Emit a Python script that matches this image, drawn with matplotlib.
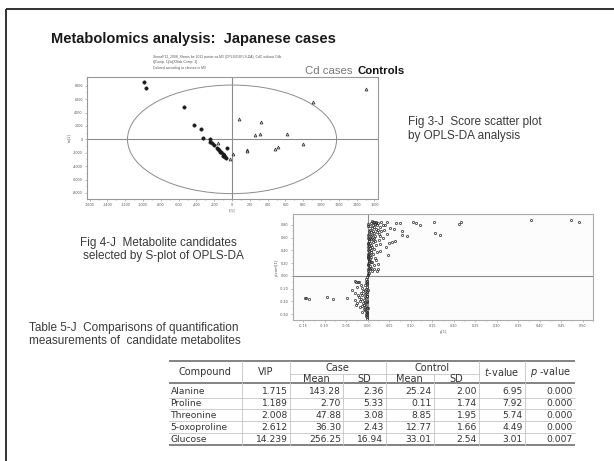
import matplotlib
matplotlib.use('Agg')
import matplotlib.pyplot as plt
from matplotlib.patches import Ellipse
from matplotlib.ticker import AutoMinorLocator

# ---------------- data ----------------
# Fig 3-J score scatter (t[1], to[1])
case_x = [-985, -970, -539, -427, -354, -331, -251, -244, -225, -199, -172, -157, -143,
          -135, -120, -104, -101, -90, -75, -67, -60]
case_y = [8507, 7701, 4776, 2179, 1507, 224, 0, -358, -552, -851, -1254, -1448, -1597,
          -1896, -1851, -2149, -2493, -2343, -2597, -2836, -1300]
ctrl_x = [-154, -22, 8, 82, 326, 258, 315, 621, 165, 172, 483, 520, 794, 913, 1502]
ctrl_y = [-597, -2940, -2239, 2985, 2627, 687, 746, 746, -1597, -1791, -1448, -1194,
          -746, 5612, 7552]

# Fig 4-J S-plot (p[1], p(corr)[1])
s_x = [0.002, 0.004, 0.001, 0.005, 0.003, 0.006, 0.002, 0.004, 0.007, 0.003, 0.005, 0.008,
       0.002, 0.006, 0.004, 0.009, 0.003, 0.007, 0.005, 0.010, 0.004, 0.008, 0.006, 0.012,
       0.003, 0.009, 0.005, 0.014, 0.007, 0.011, 0.004, 0.016, 0.008, 0.013, 0.006, 0.019,
       0.010, 0.015, 0.005, 0.022, 0.012, 0.018, 0.008, 0.025, 0.014, 0.020, 0.010, 0.003,
       0.002, 0.001, 0.002, 0.001, 0.024, 0.028, 0.017, 0.021, 0.026, 0.013, 0.018, 0.020,
       0.015, 0.022, 0.012, 0.017, 0.010, 0.014, 0.009, 0.011, 0.027, 0.032, 0.035, 0.030,
       0.013, 0.019, 0.031, 0.046, 0.067, 0.075, 0.105, 0.112, 0.123, 0.155, 0.158, 0.168,
       0.212, 0.217, 0.380, 0.474, 0.492, 0.040, 0.061, 0.079, 0.079, 0.091, 0.050, 0.063,
       0.029, 0.030, 0.048, 0.019, 0.025, 0.015, 0.038, 0.045, 0.052, 0.036, 0.042, 0.024,
       0.056, 0.021,
       0.001, 0.002, 0.000, 0.003, 0.001, 0.002, 0.000, 0.001, 0.003, 0.002, 0.000, 0.001,
       -0.001, -0.003, -0.001, -0.004, -0.002, -0.005, -0.001, -0.003, -0.006, -0.002,
       -0.004, -0.007, -0.002, -0.005, -0.003, -0.008, -0.002, -0.006, -0.004, -0.009,
       -0.003, -0.005, -0.002, -0.007, -0.003, -0.001, -0.004, -0.002, -0.003, -0.001,
       -0.002, -0.012, -0.015, -0.011, -0.014, -0.010, -0.013, -0.018, -0.020, -0.016,
       -0.009, -0.012, -0.001, 0.000, -0.002, -0.001, 0.000, -0.001,
       -0.146, -0.142, -0.136, -0.095, -0.081, -0.047, -0.036, -0.027, -0.030, -0.022,
       -0.030, -0.024, -0.020, -0.025, -0.028, -0.022, -0.018, -0.026, -0.016]
s_y = [0.02, 0.05, 0.08, 0.10, 0.13, 0.15, 0.18, 0.20, 0.22, 0.25, 0.27, 0.29,
       0.31, 0.33, 0.35, 0.37, 0.39, 0.41, 0.43, 0.45, 0.47, 0.49, 0.51, 0.53,
       0.55, 0.57, 0.59, 0.60, 0.62, 0.64, 0.66, 0.67, 0.69, 0.70, 0.72, 0.73,
       0.75, 0.76, 0.78, 0.79, 0.80, 0.81, 0.82, 0.83, 0.84, 0.85, 0.86, 0.70,
       0.60, 0.50, 0.40, 0.30, 0.72, 0.77, 0.63, 0.68, 0.65, 0.57, 0.55, 0.48,
       0.42, 0.38, 0.34, 0.28, 0.22, 0.17, 0.12, 0.07, 0.56, 0.70, 0.80, 0.62,
       0.84, 0.83, 0.84, 0.84, 0.83, 0.83, 0.85, 0.83, 0.79, 0.84, 0.67, 0.64,
       0.81, 0.84, 0.87, 0.87, 0.84, 0.79, 0.74, 0.70, 0.64, 0.62, 0.52, 0.55,
       0.50, 0.39, 0.32, 0.245, 0.10, 0.10, 0.72, 0.66, 0.75, 0.60, 0.45, 0.18,
       0.53, 0.07,
       0.035, 0.115, 0.165, 0.235, 0.285, 0.345, 0.445, 0.515, 0.575, 0.635, 0.775, 0.805,
       -0.02, -0.05, -0.08, -0.10, -0.13, -0.15, -0.18, -0.20, -0.22, -0.25,
       -0.27, -0.29, -0.31, -0.33, -0.35, -0.37, -0.39, -0.41, -0.43, -0.45,
       -0.47, -0.49, -0.51, -0.53, -0.55, -0.57, -0.59, -0.61, -0.63, -0.65,
       -0.67, -0.30, -0.36, -0.42, -0.47, -0.24, -0.19, -0.40, -0.33, -0.27,
       -0.52, -0.56, -0.115, -0.215, -0.315, -0.415, -0.505, -0.585,
       -0.35, -0.34, -0.36, -0.33, -0.36, -0.34, -0.22, -0.09, -0.08, -0.09,
       -0.38, -0.43, -0.10, -0.18, -0.26, -0.30, -0.48, -0.46, -0.14]

# Table 5-J
compounds = ["Alanine", "Proline", "Threonine", "5-oxoproline", "Glucose"]
vip = [1.715, 1.189, 2.008, 2.612, 14.239]
case_mean = [143.28, 2.70, 47.88, 36.30, 256.25]
case_sd = [2.36, 5.33, 3.08, 2.43, 16.94]
ctrl_mean = [25.24, 0.11, 8.85, 12.77, 33.01]
ctrl_sd = [2.00, 1.74, 1.95, 1.66, 2.54]
t_value = [6.95, 7.92, 5.74, 4.49, 3.01]
p_value = [0.000, 0.000, 0.000, 0.000, 0.007]

score_xticks = list(range(-1600, 1601, 200))
score_yticks = list(range(-8000, 8001, 2000))
s_xticks = [-0.15, -0.10, -0.05, 0.00, 0.05, 0.10, 0.15, 0.20, 0.25, 0.30, 0.35, 0.40, 0.45, 0.50]
s_yticks = [-0.6, -0.4, -0.2, 0.0, 0.2, 0.4, 0.6, 0.8]

# ---------------- layout ----------------
W, H = 614, 461
fig = plt.figure(figsize=(W / 100, H / 100), dpi=100)
fig.patch.set_facecolor('white')

def rect(l, t, r, b):
    return [l / W, 1 - b / H, (r - l) / W, (b - t) / H]

ov = fig.add_axes([0, 0, 1, 1])
ov.set_xlim(0, W)
ov.set_ylim(H, 0)
ov.axis('off')

SANS = ['Liberation Sans', 'DejaVu Sans']
TXT = '#3a3a3a'

# slide frame (only top and left edges are inside the picture)
ov.plot([6, W + 5], [9.5, 9.5], color='#222222', lw=1.3, solid_capstyle='butt')
ov.plot([6, 6], [9.5, H + 5], color='#222222', lw=1.3, solid_capstyle='butt')

ov.text(51, 43, "Metabolomics analysis:  Japanese cases", family=SANS, fontsize=10.5,
        fontweight='bold', color='#1a1a1a', va='baseline')

hdr = ["SimcaP12_2008_Shows for 2012 poster ca.M3 (OPLS/O2PLS-DA), CdC without Cdb",
       "t[Comp. 1]/to[XSide Comp. 1]",
       "Colored according to classes in M3"]
for i, s in enumerate(hdr):
    ov.text(153, 57 + i * 5.5, s, family=SANS, fontsize=2.4, color='#555555', va='center')

ov.text(305, 71, "Cd cases", family=SANS, fontsize=8.2, color='#777777', va='center')
ov.text(358, 71, "Controls", family=SANS, fontsize=8.2, fontweight='bold', color='#111111',
        va='center')

ov.text(408, 121.7, "Fig 3-J  Score scatter plot", family=SANS, fontsize=8.5, color=TXT, va='center')
ov.text(408, 135.7, "by OPLS-DA analysis", family=SANS, fontsize=8.5, color=TXT, va='center')
ov.text(80, 243.3, "Fig 4-J  Metabolite candidates", family=SANS, fontsize=8.5, color=TXT, va='center')
ov.text(83.3, 255.5, "selected by S-plot of OPLS-DA", family=SANS, fontsize=8.5, color=TXT, va='center')
ov.text(29.3, 328.3, "Table 5-J  Comparisons of quantification", family=SANS, fontsize=8.5,
        color=TXT, va='center')
ov.text(29.3, 340.7, "measurements of  candidate metabolites", family=SANS, fontsize=8.5,
        color=TXT, va='center')

# ---------------- score scatter plot ----------------
GR = '#8c8c8c'
ax1 = fig.add_axes(rect(87, 77, 378, 199))
ax1.set_xlim(-1630, 1640)
ax1.set_ylim(-8900, 9300)
ax1.add_patch(Ellipse((0, 0), 2 * 1175, 2 * 8100, fill=False, ec=GR, lw=0.7))
ax1.axhline(0, color=GR, lw=0.8)
ax1.axvline(0, color=GR, lw=0.8)
ax1.plot(case_x, case_y, 'o', ms=2.5, color='#1a1a1a', mec='#1a1a1a', mew=0.3)
ax1.plot(ctrl_x, ctrl_y, '^', ms=2.1, mfc='#dddddd', mec='#333333', mew=0.55)
ax1.set_xticks(score_xticks)
ax1.set_xticklabels([str(v) for v in score_xticks])
ax1.set_yticks(score_yticks)
ax1.set_yticklabels([str(v) for v in score_yticks])
ax1.xaxis.set_minor_locator(AutoMinorLocator(2))
ax1.yaxis.set_minor_locator(AutoMinorLocator(2))
ax1.tick_params(which='both', labelsize=2.4, labelcolor='#555555', color='#888888',
                length=1.5, width=0.4, pad=1.5)
ax1.tick_params(which='minor', length=1.0)
for sp in ax1.spines.values():
    sp.set_color('#999999')
    sp.set_linewidth(0.8)
ax1.set_xlabel("t[1]", fontsize=2.6, color='#555555', labelpad=1)
ax1.set_ylabel("to[1]", fontsize=2.6, color='#555555', labelpad=1)

# ---------------- S-plot ----------------
ax2 = fig.add_axes(rect(292.7, 214.5, 593.3, 320))
ax2.set_facecolor('#fcfcfc')
ax2.set_xlim(-0.174, 0.525)
ax2.set_ylim(-0.69, 0.96)
ax2.axhline(0, color=GR, lw=0.8)
ax2.axvline(0, color=GR, lw=0.8)
ax2.plot(s_x, s_y, 'o', ms=1.6, mfc='none', mec='#2a2a2a', mew=0.5)
ax2.set_xticks(s_xticks)
ax2.set_xticklabels(["%.2f" % v for v in s_xticks])
ax2.set_yticks(s_yticks)
ax2.set_yticklabels(["%.2f" % v for v in s_yticks])
ax2.xaxis.set_minor_locator(AutoMinorLocator(2))
ax2.yaxis.set_minor_locator(AutoMinorLocator(2))
ax2.tick_params(which='both', labelsize=2.4, labelcolor='#555555', color='#888888',
                length=1.5, width=0.4, pad=1.5)
ax2.tick_params(which='minor', length=1.0)
for sp in ax2.spines.values():
    sp.set_color('#aaaaaa')
    sp.set_linewidth(0.8)
ax2.set_xlabel("p[1]", fontsize=2.6, color='#555555', labelpad=1)
ax2.set_ylabel("p(corr)[1]", fontsize=2.6, color='#555555', labelpad=1)

# ---------------- table ----------------
cols = [169, 241.5, 290, 343, 385.5, 433.5, 479, 524.5, 575]
t_top, t_mid, t_hdr, t_bot = 360.7, 374.3, 383.3, 444.8
row_c = [391.7, 403.4, 415.2, 427.3, 439.2]
row_lines = [397.6, 409.4, 421.3, 433.3]
LG = '#c4c4c4'
DG = '#7a7a7a'
TF = 'DejaVu Sans'
TS = 6.6
TC = '#333333'

for y in (t_top, t_hdr, t_bot):
    ov.plot([cols[0], cols[-1]], [y, y], color=DG, lw=1.3, solid_capstyle='butt')
for y in row_lines:
    ov.plot([cols[0], cols[-1]], [y, y], color=LG, lw=0.6)
ov.plot([cols[2], cols[6]], [t_mid, t_mid], color=LG, lw=0.6)
for i in (1, 2, 4, 6, 7):
    ov.plot([cols[i], cols[i]], [t_top, t_bot], color=LG, lw=0.6)
for i in (3, 5):
    ov.plot([cols[i], cols[i]], [t_mid, t_bot], color=LG, lw=0.6)

hc = dict(family=TF, fontsize=7.0, color=TC, ha='center', va='center')
ov.text((cols[0] + cols[1]) / 2, 372, "Compound", **hc)
ov.text((cols[1] + cols[2]) / 2, 372, "VIP", **hc)
ov.text((cols[2] + cols[4]) / 2, 368, "Case", **hc)
ov.text((cols[4] + cols[6]) / 2, 368, "Control", **hc)
ov.text((cols[2] + cols[3]) / 2, 379, "Mean", **hc)
ov.text((cols[3] + cols[4]) / 2, 379, "SD", **hc)
ov.text((cols[4] + cols[5]) / 2, 379, "Mean", **hc)
ov.text((cols[5] + cols[6]) / 2, 379, "SD", **hc)
ov.text((cols[6] + cols[7]) / 2, 372, r"$\mathit{t}$-value", **hc)
ov.text((cols[7] + cols[8]) / 2 + 1, 372, r"$\mathit{p}$ -value", **hc)

bc = dict(family=TF, fontsize=TS, color=TC, va='center')
for r in range(len(compounds)):
    y = row_c[r]
    ov.text(cols[0] + 1.5, y, compounds[r], ha='left', **bc)
    vals = ["%.3f" % vip[r], "%.2f" % case_mean[r], "%.2f" % case_sd[r],
            "%.2f" % ctrl_mean[r], "%.2f" % ctrl_sd[r], "%.2f" % t_value[r],
            "%.3f" % p_value[r]]
    for j, v in enumerate(vals):
        ov.text(cols[j + 2] - 2, y, v, ha='right', **bc)

fig.savefig('out.png', dpi=100, facecolor='white')
